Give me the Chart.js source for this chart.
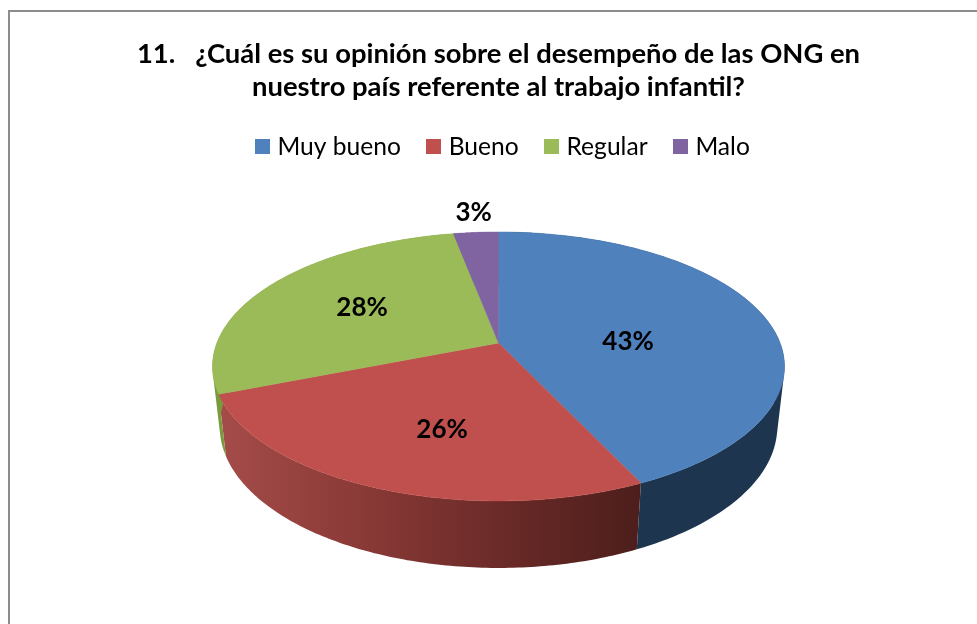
<!DOCTYPE html>
<html>
<head>
<meta charset="utf-8">
<script src="https://cdn.jsdelivr.net/npm/chart.js@4"></script>
<style>
  html, body { margin: 0; height: 100%; overflow: hidden; background: #fff; }
  #frame { position: absolute; left: 8px; top: 10px; width: 1100px; height: 800px; border: 2px solid #8c8c8c; }
  #myPie { position: absolute; left: 0; top: 0; }
</style>
</head>
<body>
<div id="frame"></div>
<canvas id="myPie" width="977" height="624"></canvas>
<script>
const categories = ['Muy bueno', 'Bueno', 'Regular', 'Malo'];
const percentages = [43, 26, 28, 3];
const titleLines = ['11.   ¿Cuál es su opinión sobre el desempeño de las ONG en', 'nuestro país referente al trabajo infantil?'];
const topColors = ['#4f81bd', '#c0504d', '#9bbb59', '#8064a2'];

// wall shading per slice, a single colour is flat
const wallStops = [['#1e3550'], ['#a54c49', '#8a3a37', '#6b2a28', '#4c1e1b'], ['#7a9a3e'], ['#5f4a7c']];
// where the percentage sits: fraction of the radius, then a vertical nudge
const labelRadius = [0.48, 0.5, 0.58, 1.12];
const labelNudge = [12, 21, -1, -9];

// perspective of the tilted disc
const tilt = { k: -0.1747, squash: 0.463, depth: 60.9, far: 0.025 };

function project(pie, angle, level, r = 1) {
    const u = Math.cos(angle) * r;
    const v = Math.sin(angle) * r;
    const w = 1 + tilt.k * v + tilt.far * level;
    return {
        x: pie.x + pie.outerRadius * u / w,
        y: pie.y + (pie.outerRadius * tilt.squash * v + tilt.depth * level) / w
    };
}

function arcPoints(arc, level) {
    const pts = [];
    const steps = 120;
    for (let i = 0; i <= steps; i++) {
        pts.push(project(arc, arc.startAngle + (arc.endAngle - arc.startAngle) * i / steps, level));
    }
    return pts;
}

function tracePath(ctx, pts) {
    ctx.beginPath();
    pts.forEach((p, i) => i ? ctx.lineTo(p.x, p.y) : ctx.moveTo(p.x, p.y));
    ctx.closePath();
}

// the wall as one path of quads, all wound the same way so the fill has no seams or holes
function traceWall(ctx, upper, lower) {
    ctx.beginPath();
    for (let i = 0; i < upper.length - 1; i++) {
        const quad = [upper[i], upper[i + 1], lower[i + 1], lower[i]];
        let area = 0;
        quad.forEach((p, j) => {
            const q = quad[(j + 1) % 4];
            area += p.x * q.y - q.x * p.y;
        });
        if (area < 0) quad.reverse();
        quad.forEach((p, j) => j ? ctx.lineTo(p.x, p.y) : ctx.moveTo(p.x, p.y));
        ctx.closePath();
    }
}

const pie3d = {
    id: 'pie3d',
    afterLayout(chart) {
        // legend centres itself with a trailing gap, push it back
        chart.legend.left += 6;
        chart.legend.right += 6;
    },
    beforeDatasetsDraw(chart) {
        const ctx = chart.ctx;
        const arcs = chart.getDatasetMeta(0).data;
        ctx.save();

        // side walls first, the top face covers what is behind
        arcs.forEach((arc, i) => {
            const upper = arcPoints(arc, 0);
            const lower = arcPoints(arc, 1);
            const stops = wallStops[i];
            let fill = stops[0];
            if (stops.length > 1) {
                const xs = upper.map(p => p.x);
                fill = ctx.createLinearGradient(Math.min(...xs), 0, Math.max(...xs), 0);
                stops.forEach((c, j) => fill.addColorStop(j / (stops.length - 1), c));
            }
            traceWall(ctx, upper, lower);
            ctx.fillStyle = fill;
            ctx.fill();
        });

        arcs.forEach((arc, i) => {
            tracePath(ctx, [{ x: arc.x, y: arc.y }].concat(arcPoints(arc, 0)));
            ctx.fillStyle = topColors[i];
            ctx.strokeStyle = topColors[i];
            ctx.lineWidth = 0.5;
            ctx.fill();
            ctx.stroke();
        });

        ctx.fillStyle = '#000';
        ctx.font = 'bold 26px Lato';
        ctx.textAlign = 'center';
        ctx.textBaseline = 'middle';
        arcs.forEach((arc, i) => {
            const mid = (arc.startAngle + arc.endAngle) / 2;
            const p = project(arc, mid, 0, labelRadius[i]);
            ctx.fillText(percentages[i] + '%', p.x, p.y + labelNudge[i]);
        });
        ctx.restore();
        return false;
    }
};

// legend swatch as a small canvas so it can overhang the narrow legend box
function swatch(color) {
    const c = document.createElement('canvas');
    c.width = 15;
    c.height = 15;
    const g = c.getContext('2d');
    g.fillStyle = color;
    g.fillRect(0, 0, 15, 15);
    return c;
}

new Chart(document.getElementById('myPie').getContext('2d'), {
    type: 'pie',
    data: {
        labels: categories,
        datasets: [{ data: percentages, backgroundColor: topColors, borderWidth: 0 }]
    },
    options: {
        responsive: false,
        animation: false,
        radius: 281.6,
        layout: { padding: { left: 20, bottom: 107 } },
        plugins: {
            title: {
                display: true,
                text: titleLines,
                color: '#000',
                font: { family: 'Lato', size: 27.4, weight: 'bold', lineHeight: 1.22 },
                padding: { top: 37, bottom: 1 }
            },
            legend: {
                position: 'top',
                labels: {
                    color: '#000',
                    font: { family: 'Lato', size: 24.6 },
                    usePointStyle: true,
                    pointStyleWidth: 6,
                    boxHeight: 15,
                    padding: 29.5,
                    generateLabels(chart) {
                        return categories.map((name, i) => ({
                            text: name,
                            fillStyle: topColors[i],
                            strokeStyle: topColors[i],
                            lineWidth: 0,
                            pointStyle: swatch(topColors[i]),
                            index: i
                        }));
                    }
                }
            },
            tooltip: { enabled: false }
        }
    },
    plugins: [pie3d]
});
</script>
</body>
</html>
